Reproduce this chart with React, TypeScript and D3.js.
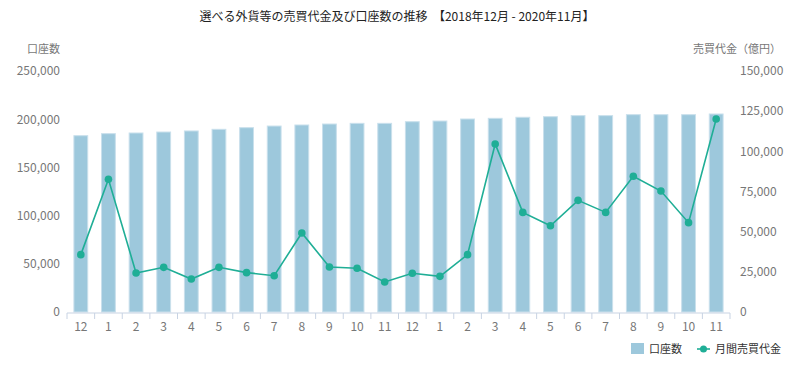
import React, { useEffect, useRef } from 'react'
import * as d3 from 'd3'

const months = ['12', '1', '2', '3', '4', '5', '6', '7', '8', '9', '10', '11',
  '12', '1', '2', '3', '4', '5', '6', '7', '8', '9', '10', '11']

const accounts = [182900, 185000, 185700, 186700, 187800, 189500, 191200, 192900, 194000, 195000, 195700, 195700,
  197400, 198100, 200200, 200900, 202000, 202600, 203700, 203700, 204700, 204700, 204700, 205400]

const turnover = [35700, 82600, 24300, 27800, 20500, 27800, 24500, 22600, 49200, 28000, 27200, 18700,
  24100, 22200, 35700, 104600, 62000, 53700, 69500, 62000, 84500, 75300, 55600, 120100]

const leftTicks = [0, 50000, 100000, 150000, 200000, 250000]
const rightTicks = [0, 25000, 50000, 75000, 100000, 125000, 150000]

const title = '選べる外貨等の売買代金及び口座数の推移  【2018年12月 - 2020年11月】'

const FONT = '"Noto Sans CJK JP", "Noto Sans", sans-serif'
const BAR = '#9dc8dc'
const LINE = '#1fae96'

const App = () => {
  const svgRef = useRef<SVGSVGElement | null>(null)

  useEffect(() => {
    if (!svgRef.current) return
    const width = 800
    const height = 371
    const margin = { top: 71, left: 67 }
    const innerWidth = 663
    const innerHeight = 241

    const svg = d3.select(svgRef.current)
    svg.selectAll('*').remove()
    svg.attr('width', width).attr('height', height)
      .style('font-family', FONT)

    const idx = months.map((_, i) => String(i))

    const x = d3.scaleBand()
      .domain(idx)
      .range([0, innerWidth])
      .paddingInner(0.5)
      .paddingOuter(0.25)

    const yL = d3.scaleLinear().domain([0, 250000]).range([innerHeight, 0])
    const yR = d3.scaleLinear().domain([0, 150000]).range([innerHeight, 0])

    svg.append('text')
      .attr('x', 397)
      .attr('y', 21)
      .attr('text-anchor', 'middle')
      .style('white-space', 'pre')
      .style('font-size', '12px')
      .style('font-weight', '400')
      .style('fill', '#222')
      .text(title)

    const g = svg.append('g')
      .attr('transform', `translate(${margin.left},${margin.top})`)

    // bars
    g.selectAll('.bar')
      .data(accounts)
      .enter()
      .append('rect')
      .attr('class', 'bar')
      .attr('x', (_, i) => x(String(i))!)
      .attr('y', d => yL(d))
      .attr('width', x.bandwidth())
      .attr('height', d => innerHeight - yL(d))
      .style('fill', BAR)
      .style('stroke', '#c9e0ec')
      .style('stroke-width', 1)

    // x axis
    const step = x.step()
    const xa = g.append('g').attr('transform', `translate(0,${innerHeight + 1})`)
    xa.append('line')
      .attr('x1', 0).attr('x2', innerWidth)
      .style('stroke', '#c8d3e3')
    xa.selectAll('.tick')
      .data(d3.range(months.length + 1))
      .enter()
      .append('line')
      .attr('x1', d => d * step)
      .attr('x2', d => d * step)
      .attr('y1', 0)
      .attr('y2', 6)
      .style('stroke', '#c8d3e3')
    xa.selectAll('.lbl')
      .data(months)
      .enter()
      .append('text')
      .attr('x', (_, i) => x(String(i))! + x.bandwidth() / 2)
      .attr('y', 18)
      .attr('text-anchor', 'middle')
      .style('font-size', '12px')
      .style('fill', '#777')
      .text(d => d)

    const fmt = d3.format(',')

    // left axis
    g.selectAll('.yl')
      .data(leftTicks)
      .enter()
      .append('text')
      .attr('x', -7)
      .attr('y', d => yL(d))
      .attr('dy', '0.36em')
      .attr('text-anchor', 'end')
      .style('font-size', '12px')
      .style('fill', '#777')
      .text(d => fmt(d))

    // right axis
    g.selectAll('.yr')
      .data(rightTicks)
      .enter()
      .append('text')
      .attr('x', 740 - margin.left)
      .attr('y', d => yR(d))
      .attr('dy', '0.36em')
      .attr('text-anchor', 'start')
      .style('font-size', '12px')
      .style('fill', '#777')
      .text(d => fmt(d))

    svg.append('text')
      .attr('x', 60).attr('y', 53)
      .attr('text-anchor', 'end')
      .style('font-size', '11px')
      .style('fill', '#777')
      .text('口座数')

    svg.append('text')
      .attr('x', 781).attr('y', 53)
      .attr('text-anchor', 'end')
      .style('font-size', '11px')
      .style('fill', '#777')
      .text('売買代金（億円）')

    // line
    const line = d3.line<number>()
      .x((_, i) => x(String(i))! + x.bandwidth() / 2)
      .y(d => yR(d))

    g.append('path')
      .datum(turnover)
      .attr('d', line)
      .style('fill', 'none')
      .style('stroke', LINE)
      .style('stroke-width', 1.6)

    g.selectAll('.dot')
      .data(turnover)
      .enter()
      .append('circle')
      .attr('cx', (_, i) => x(String(i))! + x.bandwidth() / 2)
      .attr('cy', d => yR(d))
      .attr('r', 3.8)
      .style('fill', LINE)

    // legend
    const lg = svg.append('g')
    lg.append('rect')
      .attr('x', 631).attr('y', 343)
      .attr('width', 13).attr('height', 11)
      .style('fill', BAR)
    lg.append('text')
      .attr('x', 649).attr('y', 349)
      .attr('dy', '0.36em')
      .style('font-size', '11px')
      .style('fill', '#333')
      .text('口座数')
    lg.append('line')
      .attr('x1', 697).attr('x2', 710)
      .attr('y1', 349).attr('y2', 349)
      .style('stroke', LINE)
      .style('stroke-width', 1.6)
    lg.append('circle')
      .attr('cx', 703.5).attr('cy', 349)
      .attr('r', 3.5)
      .style('fill', LINE)
    lg.append('text')
      .attr('x', 715).attr('y', 349)
      .attr('dy', '0.36em')
      .style('font-size', '11px')
      .style('fill', '#333')
      .text('月間売買代金')
  }, [])

  return (
    <div style={{ position: 'absolute', left: 0, top: 0, width: 800, height: 371, background: '#fff' }}>
      <svg ref={svgRef}></svg>
    </div>
  )
}

export default App
